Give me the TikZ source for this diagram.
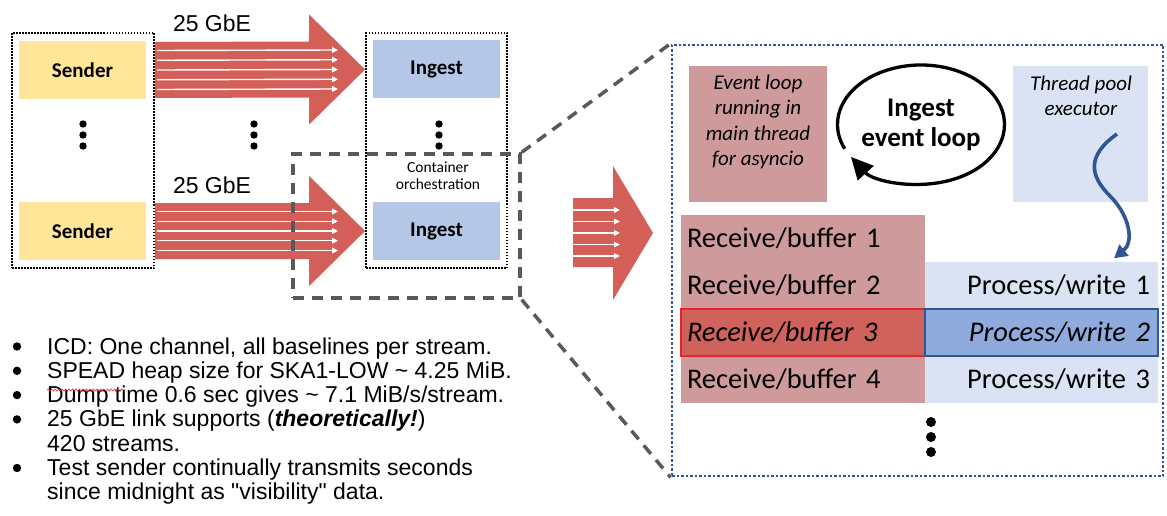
\documentclass[tikz,border=0pt]{standalone}
\usepackage{fontspec}
\setmainfont{Liberation Sans}
\newfontfamily\calibrifont{Carlito}
\newfontfamily\arialfont{Liberation Sans}
\usetikzlibrary{arrows.meta,calc,decorations.pathmorphing}

\definecolor{senderyellow}{HTML}{FFE699}
\definecolor{ingestblue}{HTML}{B4C7E7}
\definecolor{linkred}{HTML}{D35F58}
\definecolor{rosefill}{HTML}{CF9A9C}
\definecolor{paleblue}{HTML}{DAE3F3}
\definecolor{hotred}{HTML}{D0625C}
\definecolor{borderred}{HTML}{E8232B}
\definecolor{midblue}{HTML}{8FAADC}
\definecolor{darkblue}{HTML}{2F5597}
\definecolor{dashgrey}{HTML}{595959}

\begin{document}
\begin{tikzpicture}[x=1pt,y=-1pt,
		every node/.style={inner sep=0pt},
		hostbox/.style={minimum width=127pt,minimum height=58pt,font=\calibrifont\bfseries\fontsize{21}{25}\selectfont},
		groupbox/.style={draw,line width=1.8pt,dash pattern=on 1.5pt off 1.5pt,minimum height=235pt},
		linklabel/.style={anchor=base,font=\arialfont\fontsize{23}{26}\selectfont},
		stream/.style={white,line width=1.4pt,-{Triangle[length=6pt,width=5.5pt]}},
		zoomline/.style={dashgrey,line width=3.5pt,dash pattern=on 11pt off 8pt},
		notebox/.style={minimum width=138pt,minimum height=136pt},
		notetext/.style={align=center,font=\calibrifont\itshape\fontsize{21}{25.3}\selectfont},
		rowtext/.style={minimum height=47pt,font=\calibrifont\fontsize{28.5}{30}\selectfont},
		recvrow/.style={rowtext,text width=232pt,minimum width=244pt,align=left,fill=rosefill},
		procrow/.style={rowtext,text width=217pt,minimum width=233pt,align=right,fill=paleblue},
		bullettext/.style={anchor=base west,font=\arialfont\fontsize{23}{24}\selectfont}]
	\useasboundingbox (0,0) rectangle (1167,516);

	% draw senders and ingest nodes
	\node (senders) at (83,150.5) [groupbox,minimum width=142pt] {};
	\node (ingests) at (436.5,150.5) [groupbox,minimum width=141pt] {};
	\node (sender1) at (82.5,70) [hostbox,fill=senderyellow] {Sender};
	\node (sender2) at (82.5,231) [hostbox,fill=senderyellow] {Sender};
	\node (ingest1) at (436.5,69.5) [hostbox,fill=ingestblue] {Ingest};
	\node (ingest2) at (436.5,231) [hostbox,fill=ingestblue] {Ingest};
	\node (orchestration) at (438,176) [align=center,font=\calibrifont\fontsize{15.5}{17}\selectfont] {Container\\orchestration};

	% draw vertical dots
	\foreach \x in {83,254,439}
	{
		\foreach \y in {124,135,146}
		{
			\fill (\x,\y) circle (3.7);
		}
	}

	% draw 25 GbE links
	\foreach \n/\y in {1/32,2/193}
	{
		\node (link\n) at (212,\y) [linklabel] {25 GbE};
		\path (senders.east |- sender\n.center) coordinate (tail) (ingests.west |- ingest\n.center) coordinate (tip);
		\fill[linkred] ($(tail)+(0,-28)$) -- ($(tip)+(-56,-28)$) -- ($(tip)+(-56,-55)$) -- (tip)
			-- ($(tip)+(-56,55)$) -- ($(tip)+(-56,28)$) -- ($(tail)+(0,28)$) -- cycle;
		\foreach \d in {-19.5,-9.75,0,9.75,19.5}
		{
			\draw[stream] ($(tail)+(2,\d)$) -- ($(tip)+(-27,\d)$);
		}
	}

	% draw zoomed region and detail box
	\node (zoomsrc) at (406.5,226) [draw=dashgrey,line width=3.5pt,dash pattern=on 11pt off 8pt,minimum width=227pt,minimum height=144pt] {};
	\node (detail) at (917.5,260.5) [draw=darkblue,line width=2.8pt,dash pattern=on 2.5pt off 2pt,minimum width=491pt,minimum height=431pt] {};
	\draw[zoomline] (zoomsrc.north east) -- (detail.north west);
	\draw[zoomline] (zoomsrc.south east) -- (detail.south west);

	% draw arrow into detail box
	\fill[linkred] (573,198) -- (613,198) -- (613,166) -- (653,233) -- (613,300) -- (613,267) -- (573,267) -- cycle;
	\foreach \y in {210,221.5,233,244.5,256}
	{
		\draw[stream] (573,\y) -- (620,\y);
	}

	% draw event loop and thread pool
	\node (eventbox) at (758,134) [notebox,fill=rosefill] {};
	\node (eventtext) at (758,122) [notetext] {Event loop\\running in\\main thread\\for asyncio};
	\node (poolbox) at (1080.5,134) [notebox,minimum width=135pt,fill=paleblue] {};
	\node (pooltext) at (1081,96) [notetext] {Thread pool\\executor};
	\node (loop) at (921,124.5) [align=center,font=\calibrifont\bfseries\fontsize{27}{30}\selectfont] {Ingest\\event loop};
	\draw[line width=3.3pt,-{Triangle[length=22pt,width=21pt]}] ($(loop.center)+(-76.3,24.2)$)
		arc[start angle=156,end angle=507,x radius=83.5,y radius=59.5];

	% draw receive and process rows
	\foreach \i in {1,2,4}
	{
		\node (recv\i) at (803,191+47*\i) [recvrow] {Receive/buffer \i};
	}
	\foreach \i in {1,3}
	{
		\node (proc\i) at (1041.5,238+47*\i) [procrow] {Process/write \i};
	}
	\node (recv3) at (803,332) [recvrow,fill=hotred,draw=borderred,line width=2pt] {\itshape Receive/buffer 3};
	\node (proc2) at (1041.5,332) [procrow,fill=midblue,draw=darkblue,line width=2pt] {\itshape Process/write 2};

	% draw wavy arrow from thread pool to first process row
	\coordinate (wavetop) at (1117,134);
	\coordinate (wavetip) at (proc1.north -| 1114,0);
	\draw[darkblue,line width=3.6pt,-{Triangle[length=13pt,width=14pt]}] (wavetop)
		.. controls (1086,156) and (1090,176) .. (1110,196)
		.. controls (1130,216) and (1134,242) .. ($(wavetip)+(0,-3)$);

	% draw dots below rows
	\foreach \y in {422,437,452}
	{
		\fill (931,\y) circle (5);
	}

	% draw bullet list
	\foreach \y/\txt [count=\i] in {354/{ICD: One channel, all baselines per stream.},
		378.3/{SPEAD heap size for SKA1-LOW \textasciitilde{} 4.25 MiB.},
		402.6/{Dump time 0.6 sec gives \textasciitilde{} 7.1 MiB/s/stream.},
		426.9/{25 GbE link supports (\textbf{\textit{theoretically!}})},
		451.2/{420 streams.},
		475.5/{Test sender continually transmits seconds},
		499.8/{since midnight as "visibility" data.}}
	{
		\node (line\i) at (47,\y) [bullettext] {\txt};
	}
	\foreach \y in {354,378.3,402.6,426.9,475.5}
	{
		\fill (17,\y-7.5) circle (4.2);
	}
	\draw[borderred,line width=0.6pt,decorate,decoration={snake,amplitude=1pt,segment length=3.5pt}] (47,390) -- (124,390);
\end{tikzpicture}
\end{document}
